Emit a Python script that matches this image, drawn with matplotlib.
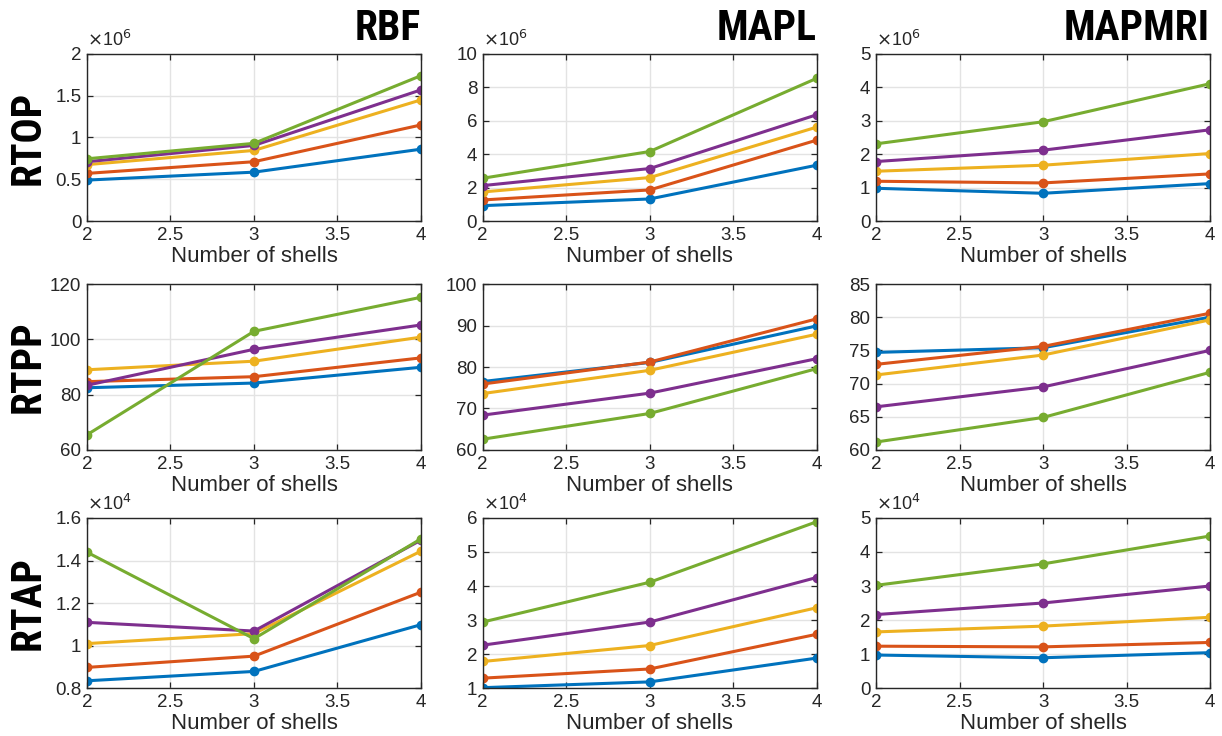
import numpy as np
import matplotlib
matplotlib.use("Agg")
import matplotlib.pyplot as plt
from matplotlib import font_manager as fm
from matplotlib.ticker import FuncFormatter, MultipleLocator

# MATLAB default line colours
COLORS = ["#0072BD", "#D95319", "#EDB120", "#7E2F8E", "#77AC30"]
shells = [2, 3, 4]
methods = ["RBF", "MAPL", "MAPMRI"]
metrics = ["RTOP", "RTPP", "RTAP"]

# each row: blue, orange, yellow, purple, green
rtop_rbf = [[0.49e6, 0.585e6, 0.86e6], [0.57e6, 0.71e6, 1.15e6],
            [0.675e6, 0.845e6, 1.45e6], [0.71e6, 0.905e6, 1.57e6],
            [0.745e6, 0.93e6, 1.74e6]]
rtop_mapl = [[0.92e6, 1.32e6, 3.34e6], [1.26e6, 1.86e6, 4.84e6],
             [1.74e6, 2.6e6, 5.62e6], [2.12e6, 3.14e6, 6.36e6],
             [2.56e6, 4.16e6, 8.54e6]]
rtop_mapmri = [[0.98e6, 0.83e6, 1.12e6], [1.19e6, 1.14e6, 1.41e6],
               [1.49e6, 1.67e6, 2.02e6], [1.78e6, 2.12e6, 2.73e6],
               [2.31e6, 2.97e6, 4.11e6]]

rtpp_rbf = [[82.5, 84.2, 89.9], [84.7, 86.5, 93.3], [89.0, 92.1, 100.8],
            [83.4, 96.4, 105.2], [65.5, 102.9, 115.2]]
rtpp_mapl = [[76.5, 81.1, 89.9], [75.9, 81.2, 91.6], [73.6, 79.2, 87.9],
             [68.4, 73.7, 82.0], [62.6, 68.8, 79.6]]
rtpp_mapmri = [[74.7, 75.4, 80.0], [72.9, 75.6, 80.6], [71.3, 74.3, 79.6],
               [66.5, 69.5, 75.0], [61.2, 64.9, 71.7]]

rtap_rbf = [[0.834e4, 0.878e4, 1.098e4], [0.897e4, 0.950e4, 1.251e4],
            [1.009e4, 1.056e4, 1.444e4], [1.109e4, 1.068e4, 1.496e4],
            [1.439e4, 1.032e4, 1.502e4]]
rtap_mapl = [[1.01e4, 1.18e4, 1.88e4], [1.29e4, 1.56e4, 2.58e4],
             [1.78e4, 2.25e4, 3.36e4], [2.26e4, 2.94e4, 4.25e4],
             [2.94e4, 4.11e4, 5.89e4]]
rtap_mapmri = [[0.97e4, 0.89e4, 1.04e4], [1.23e4, 1.21e4, 1.34e4],
               [1.65e4, 1.82e4, 2.08e4], [2.16e4, 2.50e4, 3.00e4],
               [3.02e4, 3.65e4, 4.47e4]]

DATA = [[rtop_rbf, rtop_mapl, rtop_mapmri],
        [rtpp_rbf, rtpp_mapl, rtpp_mapmri],
        [rtap_rbf, rtap_mapl, rtap_mapmri]]

# (ymin, ymax, step, exponent) per panel
YAX = [[(0, 2e6, 0.5e6, 6), (0, 10e6, 2e6, 6), (0, 5e6, 1e6, 6)],
       [(60, 120, 20, 0), (60, 100, 10, 0), (60, 85, 5, 0)],
       [(0.8e4, 1.6e4, 0.2e4, 4), (1e4, 6e4, 1e4, 4), (0, 5e4, 1e4, 4)]]

plt.rcParams["font.family"] = ["Liberation Sans", "DejaVu Sans"]
INK = "#262626"


def condensed_bold(size):
    # ищем узкий жирный шрифт, если он есть в системе
    best = None
    for f in fm.fontManager.ttflist:
        narrow = (f.stretch in ("condensed", "semi-condensed",
                                "extra-condensed", "ultra-condensed")
                  or "Condensed" in f.name or "Narrow" in f.name
                  or "Condensed" in f.fname or "Narrow" in f.fname)
        w = f.weight if isinstance(f.weight, int) else \
            (700 if "bold" in str(f.weight).lower() else 400)
        if narrow and w >= 700:
            best = f.fname
            if "Liberation" in f.name or "Roboto" in f.name:
                break
    if best:
        return fm.FontProperties(fname=best, size=size)
    return fm.FontProperties(family="Liberation Sans", weight="bold",
                             size=size * 0.85)


BIGFP = condensed_bold(30)

fig = plt.figure(figsize=(12.22, 7.36), dpi=100, facecolor="white")
lefts = [0.0712, 0.395, 0.7169]
rows = [(0.6997, 0.227), (0.3886, 0.2255), (0.0652, 0.231)]

for r in range(3):
    for c in range(3):
        b, h = rows[r]
        ax = fig.add_axes([lefts[c], b, 0.2733, h])
        for k, ys in enumerate(DATA[r][c]):
            ax.plot(shells, ys, "-o", color=COLORS[k], lw=2.2, ms=6,
                    mec=COLORS[k], mfc=COLORS[k])
        lo, hi, step, ex = YAX[r][c]
        ax.set_xlim(2, 4)
        ax.set_ylim(lo, hi)
        ax.xaxis.set_major_locator(MultipleLocator(0.5))
        ax.yaxis.set_major_locator(MultipleLocator(step))
        ax.xaxis.set_major_formatter(FuncFormatter(lambda v, p: f"{v:g}"))
        sc = 10.0 ** ex
        ax.yaxis.set_major_formatter(
            FuncFormatter(lambda v, p, sc=sc: f"{v / sc:g}"))
        if ex:
            ax.text(0.0, 1.025, r"$\times$10$^{%d}$" % ex,
                    transform=ax.transAxes, fontsize=13, color=INK,
                    ha="left", va="bottom")
        ax.grid(True, color="#e3e3e3", lw=1.0)
        ax.set_axisbelow(True)
        ax.tick_params(direction="in", top=True, right=True, length=4,
                       width=0.9, colors=INK, labelsize=13.5, pad=4)
        for s in ax.spines.values():
            s.set_color(INK)
            s.set_linewidth(1.0)
        ax.set_xlabel("Number of shells", fontsize=16, color=INK, labelpad=2)
        if r == 0:
            ax.text(1.0, 1.085, methods[c], transform=ax.transAxes,
                    ha="right", va="baseline", fontproperties=BIGFP,
                    color="black")
        if c == 0:
            ax.text(-0.175, 0.5, metrics[r], transform=ax.transAxes,
                    rotation=90, ha="center", va="center",
                    fontproperties=BIGFP, color="black")

fig.savefig("out.png", dpi=100, facecolor="white")
